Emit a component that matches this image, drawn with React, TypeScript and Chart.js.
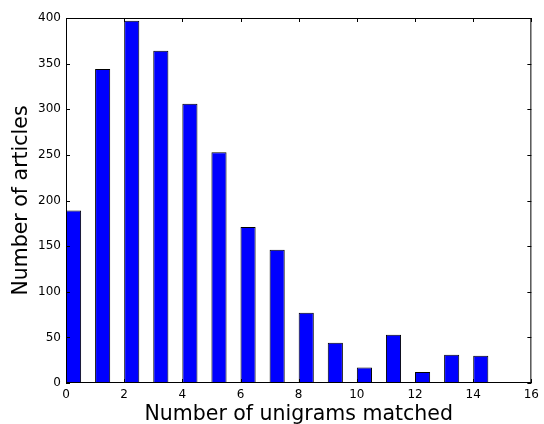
import React, { useEffect, useRef } from "react";
import { Chart, registerables } from "chart.js";

Chart.register(...registerables);

const bins = [0, 1, 2, 3, 4, 5, 6, 7, 8, 9, 10, 11, 12, 13, 14];
const counts = [189, 344, 397, 364, 306, 253, 171, 146, 77, 44, 17, 53, 12, 31, 30];
const xTicks = [0, 2, 4, 6, 8, 10, 12, 14, 16];
const yTicks = [0, 50, 100, 150, 200, 250, 300, 350, 400];
const barWidth = 0.52;
const xLabel = "Number of unigrams matched";
const yLabel = "Number of articles";

const FONT = "'DejaVu Sans', sans-serif";

const framePlugin = {
  id: "frame",
  afterDatasetsDraw(chart: any) {
    const { ctx, chartArea, scales } = chart;
    const { left, right, top, bottom } = chartArea;
    const xs = scales.x;
    const ys = scales.y;
    const tl = 4;
    ctx.save();
    ctx.strokeStyle = "#000";
    ctx.lineWidth = 1;
    ctx.beginPath();
    for (const v of xTicks) {
      const p = Math.round(xs.getPixelForValue(v)) + 0.5;
      ctx.moveTo(p, bottom);
      ctx.lineTo(p, bottom - tl);
      ctx.moveTo(p, top);
      ctx.lineTo(p, top + tl);
    }
    for (const v of yTicks) {
      const p = Math.round(ys.getPixelForValue(v)) + 0.5;
      ctx.moveTo(left, p);
      ctx.lineTo(left + tl, p);
      ctx.moveTo(right, p);
      ctx.lineTo(right - tl, p);
    }
    ctx.stroke();
    ctx.strokeRect(left + 0.5, top + 0.5, right - left - 1, bottom - top - 1);
    ctx.restore();
  },
};

export default function App() {
  const ref = useRef<HTMLCanvasElement | null>(null);
  useEffect(() => {
    if (!ref.current) return;
    const chart = new Chart(ref.current, {
      type: "bar",
      data: {
        datasets: [
          {
            data: bins.map((b, i) => ({ x: b + barWidth / 2, y: counts[i] })),
            backgroundColor: "#0000ff",
            borderColor: "#000000",
            borderWidth: 1,
            borderSkipped: false,
            barPercentage: barWidth,
            categoryPercentage: 1,
          },
        ],
      },
      options: {
        animation: false,
        responsive: false,
        maintainAspectRatio: false,
        layout: { padding: { left: 0, top: 18, right: 7, bottom: 0 } },
        plugins: { legend: { display: false }, tooltip: { enabled: false } },
        scales: {
          x: {
            type: "linear",
            min: 0,
            max: 16,
            offset: false,
            grid: { display: false, offset: false, drawTicks: false },
            border: { display: false },
            afterBuildTicks: (s: any) => {
              s.ticks = xTicks.map((v) => ({ value: v }));
            },
            afterFit: (s: any) => {
              s.height = 41;
            },
            ticks: {
              color: "#000",
              font: { family: FONT, size: 12 },
              padding: 5,
              maxRotation: 0,
              autoSkip: false,
            },
            title: {
              display: true,
              text: xLabel,
              color: "#000",
              font: { family: FONT, size: 20.5 },
              padding: { top: 0, bottom: -3 },
            },
          },
          y: {
            min: 0,
            max: 400,
            grid: { display: false, drawTicks: false },
            border: { display: false },
            afterBuildTicks: (s: any) => {
              s.ticks = yTicks.map((v) => ({ value: v }));
            },
            afterFit: (s: any) => {
              s.width = 66;
            },
            ticks: {
              color: "#000",
              font: { family: FONT, size: 12 },
              padding: 5,
              autoSkip: false,
            },
            title: {
              display: true,
              text: yLabel,
              color: "#000",
              font: { family: FONT, size: 20.5 },
              padding: { top: 9, bottom: 0 },
            },
          },
        },
      },
      plugins: [framePlugin],
    });
    return () => chart.destroy();
  }, []);
  return (
    <div style={{ position: "fixed", left: 0, top: 0, width: 544, height: 424, background: "#fff" }}>
      <canvas ref={ref} width={544} height={424} style={{ width: 544, height: 424 }} />
    </div>
  );
}
